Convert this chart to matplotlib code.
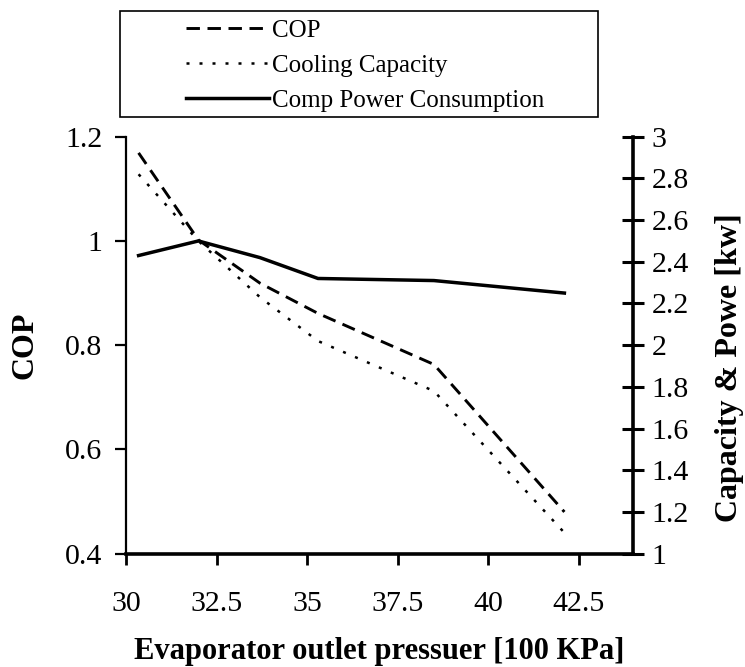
import matplotlib
matplotlib.use("Agg")
import matplotlib.pyplot as plt
from matplotlib.patches import Rectangle

# data
pressure = [30.35, 32.0, 33.7, 35.3, 38.5, 42.1]
cop = [1.169, 1.002, 0.919, 0.861, 0.763, 0.480]
cooling_capacity = [2.82, 2.50, 2.23, 2.02, 1.78, 1.10]
comp_power = [2.43, 2.50, 2.42, 2.32, 2.31, 2.25]

x_ticks = [30, 32.5, 35, 37.5, 40, 42.5]
x_tick_labels = ["30", "32.5", "35", "37.5", "40", "42.5"]
cop_ticks = [0.4, 0.6, 0.8, 1.0, 1.2]
cop_tick_labels = ["0.4", "0.6", "0.8", "1", "1.2"]
kw_ticks = [1, 1.2, 1.4, 1.6, 1.8, 2, 2.2, 2.4, 2.6, 2.8, 3]
kw_tick_labels = ["1", "1.2", "1.4", "1.6", "1.8", "2", "2.2", "2.4", "2.6", "2.8", "3"]

plt.rcParams['font.family'] = ['Liberation Serif', 'DejaVu Serif']

fig = plt.figure(figsize=(7.45, 6.67), dpi=100)
ax = fig.add_axes([0.169, 0.170, 0.681, 0.625])
ax2 = ax.twinx()

l1, = ax.plot(pressure, cop, color='black', lw=2.1, linestyle=(0, (4.6, 2.6)), label='COP')
l2, = ax2.plot(pressure, cooling_capacity, color='black', lw=1.8, linestyle=(0, (1.2, 4.0)),
               label='Cooling Capacity')
l3, = ax2.plot(pressure, comp_power, color='black', lw=2.5, label='Comp Power Consumption')

ax.set_xlim(30, 44)
ax.set_ylim(0.4, 1.2)
ax2.set_ylim(1, 3)

ax.set_xticks(x_ticks)
ax.set_xticklabels(x_tick_labels)
ax.set_yticks(cop_ticks)
ax.set_yticklabels(cop_tick_labels)
ax2.set_yticks(kw_ticks)
ax2.set_yticklabels(kw_tick_labels)

for s in ['top', 'right']:
    ax.spines[s].set_visible(False)
for s in ['top', 'left', 'bottom']:
    ax2.spines[s].set_visible(False)
ax.spines['left'].set_linewidth(1.6)
ax.spines['bottom'].set_linewidth(2.6)
ax2.spines['right'].set_linewidth(2.6)

ax.tick_params(axis='x', direction='out', length=8, width=2, pad=19, labelsize=21.5)
ax.tick_params(axis='y', direction='out', length=8, width=1.6, pad=9, labelsize=21.5)
ax2.tick_params(axis='y', direction='inout', length=16, width=2.2, pad=5, labelsize=21.5)

ax.set_xlabel('Evaporator outlet pressuer [100 KPa]', fontsize=22, fontweight='bold', labelpad=14)
ax.set_ylabel('COP', fontsize=23, fontweight='bold', labelpad=18)
ax2.set_ylabel('Capacity & Powe [kw]', fontsize=23, fontweight='bold', labelpad=19)
ax2.yaxis.label.set_y(0.445)

# legend box above the plot
fig.patches.append(Rectangle((0.161, 0.8246), 0.642, 0.159, transform=fig.transFigure,
                             fill=False, edgecolor='black', lw=1.2))
fig.legend(handles=[l1, l2, l3], loc='center left', bbox_to_anchor=(0.2497, 0.902),
           frameon=False, fontsize=18, handlelength=3.3, handletextpad=0.15,
           labelspacing=0.5, borderpad=0, borderaxespad=0)

fig.savefig('out.png', dpi=100)
